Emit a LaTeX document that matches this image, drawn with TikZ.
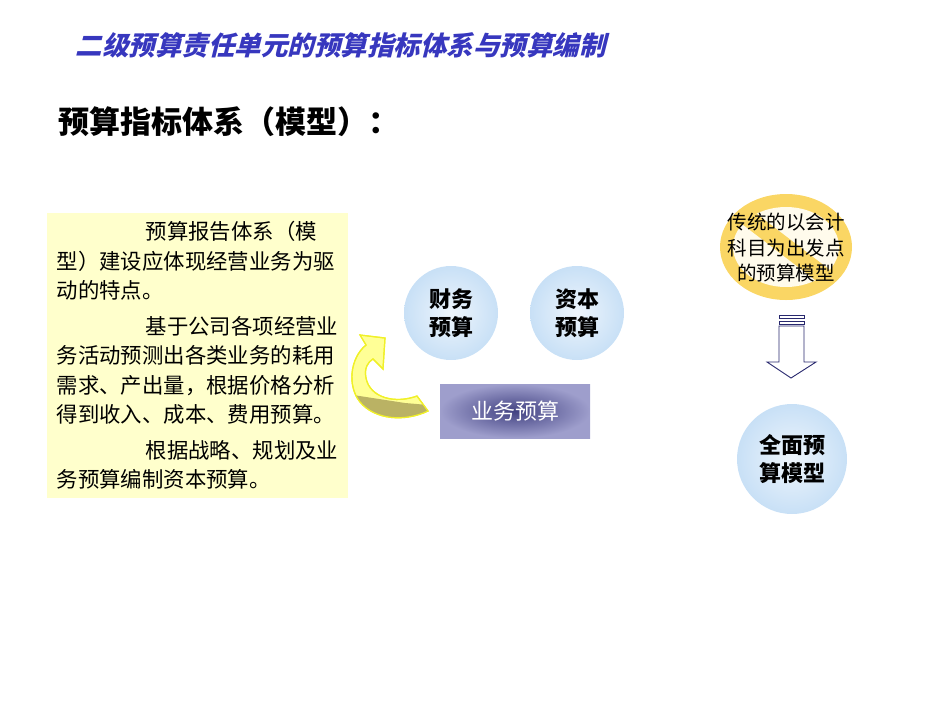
\documentclass[tikz,border=0pt]{standalone}
\usepackage{fontspec}
\usepackage{tikz}
\newfontfamily\cjk{Noto Sans CJK SC}
\newfontfamily\cjkslant[FakeSlant=0.25]{Noto Sans CJK SC}
\definecolor{titleblue}{RGB}{55,55,190}
\definecolor{notebg}{RGB}{255,255,204}
\definecolor{ballblue}{RGB}{200,224,246}
\definecolor{ballcore}{RGB}{238,245,252}
\definecolor{bizpurple}{RGB}{66,66,130}
\definecolor{bizlight}{RGB}{158,158,204}
\definecolor{signyellow}{RGB}{250,214,100}
\definecolor{signcore}{RGB}{255,251,236}
\definecolor{curlyellow}{RGB}{255,255,150}
\definecolor{curlglow}{RGB}{240,240,40}
\definecolor{curlolive}{RGB}{186,178,100}
\definecolor{arrownavy}{RGB}{40,40,110}
% block arrow from the business budget up to the two budgets
\def\curlarrowpath{(417,396) .. controls (395,404) and (370,398) .. (366,378)
  .. controls (364,368) and (368,362) .. (373,359) -- (383,369) -- (385,338)
  -- (360,335) -- (366,345) .. controls (350,358) and (347,386) .. (360,402)
  .. controls (375,420) and (405,422) .. (428,411) -- cycle}

\begin{document}
\begin{tikzpicture}[x=1pt,y=-1pt,
  ball node/.style={circle,minimum size=94pt,inner sep=0pt,shade,
    inner color=ballcore,outer color=ballblue,align=center,
    font=\cjk\bfseries\fontsize{22}{28}\selectfont},
  note box/.style={fill=notebg,minimum width=301pt,minimum height=285pt,
    inner sep=0pt,align=left,font=\cjk\fontsize{21.4}{29.5}\selectfont},
  biz box/.style={minimum width=150pt,minimum height=54pt,shade,
    inner color=bizpurple,outer color=bizlight,text=white,
    font=\cjk\fontsize{22}{24}\selectfont}]
\useasboundingbox (0,0) rectangle (950,713);

  \node[anchor=west,text=titleblue,font=\cjkslant\bfseries\fontsize{26.5}{30}\selectfont]
    (title) at (72,45) {二级预算责任单元的预算指标体系与预算编制};
  \node[anchor=west,font=\cjk\bfseries\fontsize{31}{34}\selectfont]
    (heading) at (55,122) {预算指标体系（模型）：};

  \node[note box] (note) at (197.5,355.5) {%
    \hspace*{89pt}预算报告体系（模\\
    型）建设应体现经营业务为驱\\
    动的特点。\\[6pt]
    \hspace*{89pt}基于公司各项经营业\\
    务活动预测出各类业务的耗用\\
    需求、产出量，根据价格分析\\
    得到收入、成本、费用预算。\\[6pt]
    \hspace*{89pt}根据战略、规划及业\\
    务预算编制资本预算。};

  \node[ball node] (fin) at (451,313) {财务\\预算};
  \node[ball node] (cap) at (577,313) {资本\\预算};
  \node[biz box] (biz) at (515,411) {业务预算};

  % curled arrow, olive where it turns over
  \fill[curlyellow,draw=curlglow,line width=1.2pt] \curlarrowpath;
  \begin{scope}
    \clip \curlarrowpath;
    \fill[curlolive] (340,393) -- (405,403) -- (440,406) -- (440,440) -- (340,440) -- cycle;
  \end{scope}
  \draw[curlglow,line width=1.2pt] \curlarrowpath;

  % the old model, crossed out
  \begin{scope}[shift={(786,247)}]
    \fill[signyellow] (0,0) ellipse [x radius=66pt,y radius=53pt];
    \fill[signcore] (0,0) ellipse [x radius=53pt,y radius=40pt];
    \clip (0,0) ellipse [x radius=53pt,y radius=40pt];
    \draw[signyellow,line width=17pt] (-60,-46) -- (60,46);
  \end{scope}
  \node[align=center,font=\cjk\fontsize{19.5}{25.5}\selectfont]
    (old) at (786,248) {传统的以会计\\科目为出发点\\的预算模型};

  \draw[arrownavy,fill=white,line width=0.9pt] (779,326) -- (804,326) -- (804,362)
    -- (816,362) -- (791,378) -- (767,362) -- (779,362) -- cycle;
  \draw[arrownavy,fill=white,line width=0.9pt] (779,315) rectangle (804,318);
  \draw[arrownavy,fill=white,line width=0.9pt] (779,321) rectangle (804,324);

  \node[ball node,minimum size=110pt] (full) at (792,459) {全面预\\算模型};
\end{tikzpicture}
\end{document}
